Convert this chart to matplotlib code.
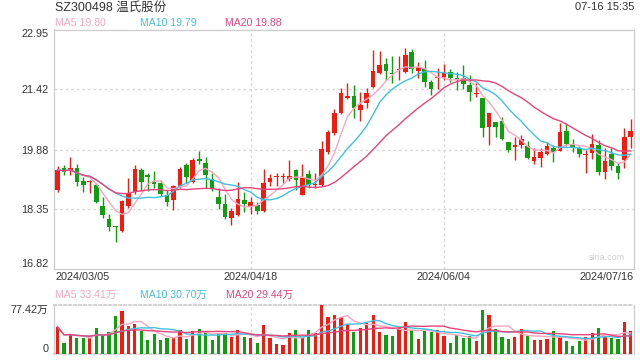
import matplotlib
matplotlib.use("Agg")
import matplotlib.pyplot as plt
import numpy as np
import pandas as pd

title = "SZ300498 温氏股份"
stamp = "07-16 15:35"
date_labels = ["2024/03/05", "2024/04/18", "2024/06/04", "2024/07/16"]
date_idx = [0, 30, 60, 89]
price_ticks = [22.95, 21.42, 19.88, 18.35, 16.82]
vol_max = 77.42

opens = [18.85, 19.40, 19.33, 19.41, 19.08, 19.04, 18.98, 18.44, 18.11, 17.93,
         17.79, 18.44, 18.79, 19.36, 19.22, 19.05, 19.02, 18.72, 18.58, 18.94,
         19.49, 19.06, 19.65, 19.53, 19.12, 18.66, 18.49, 18.13, 18.22, 18.60,
         18.43, 18.47, 18.32, 19.06, 19.19, 19.18, 19.14, 19.35, 18.73, 19.25,
         18.98, 18.98, 19.82, 20.30, 20.81, 21.19, 21.25, 20.89, 21.06, 21.47,
         21.83, 22.06, 21.83, 21.91, 21.87, 22.38, 21.90, 21.93, 21.60, 21.71,
         21.74, 21.87, 21.70, 21.70, 21.53, 21.30, 21.21, 20.46, 20.59, 20.60,
         20.08, 19.95, 20.01, 19.97, 19.59, 19.67, 19.78, 19.93, 19.85, 20.36,
         19.99, 19.93, 19.73, 19.80, 19.99, 19.31, 19.76, 19.45, 19.61, 20.19]
highs = [19.46, 19.49, 19.68, 19.51, 19.19, 19.11, 19.02, 18.66, 18.23, 17.93,
         18.60, 19.15, 19.48, 19.40, 19.29, 19.33, 19.11, 18.85, 18.98, 19.43,
         19.53, 19.66, 19.85, 19.70, 19.29, 18.91, 18.74, 18.38, 19.04, 18.80,
         18.68, 18.55, 19.38, 19.26, 19.29, 19.29, 19.62, 19.38, 19.51, 19.35,
         19.27, 20.09, 20.38, 20.93, 21.46, 21.57, 21.53, 21.34, 21.45, 22.42,
         22.40, 22.23, 22.27, 22.27, 22.47, 22.45, 22.11, 22.17, 21.66, 21.96,
         22.06, 21.93, 21.87, 22.04, 21.79, 21.57, 21.21, 20.82, 20.59, 20.71,
         20.08, 20.20, 20.25, 20.09, 19.93, 19.91, 20.08, 19.99, 20.56, 20.56,
         20.16, 19.97, 19.86, 20.27, 20.12, 19.91, 19.91, 19.54, 20.42, 20.67]
lows = [18.80, 19.23, 19.23, 18.94, 18.79, 18.78, 18.51, 18.13, 17.81, 17.52,
        17.77, 18.38, 18.74, 18.85, 18.81, 18.90, 18.70, 18.44, 18.34, 18.90,
        19.02, 19.02, 19.50, 18.91, 18.83, 18.36, 18.10, 17.95, 18.19, 18.29,
        18.23, 18.23, 18.29, 18.95, 18.95, 19.02, 19.08, 18.85, 18.72, 18.89,
        18.89, 18.96, 19.76, 20.26, 20.78, 21.17, 20.68, 20.61, 20.94, 21.45,
        21.81, 21.66, 21.59, 21.66, 21.83, 21.83, 21.70, 21.47, 21.28, 21.43,
        21.66, 21.62, 21.40, 21.43, 21.11, 21.23, 20.21, 20.01, 20.20, 20.12,
        19.82, 19.61, 19.93, 19.63, 19.51, 19.44, 19.74, 19.57, 19.84, 19.97,
        19.82, 19.69, 19.27, 19.65, 19.23, 19.12, 19.37, 19.12, 19.40, 19.93]
closes = [19.36, 19.32, 19.40, 19.06, 18.98, 19.08, 18.55, 18.20, 17.89, 17.91,
          18.57, 18.77, 19.39, 19.06, 19.18, 19.00, 18.75, 18.53, 18.94, 19.38,
          19.17, 19.62, 19.60, 19.23, 18.87, 18.49, 18.15, 18.30, 18.62, 18.50,
          18.55, 18.30, 19.02, 19.15, 19.21, 19.20, 19.21, 19.11, 19.15, 18.97,
          19.00, 19.89, 20.32, 20.81, 21.32, 21.26, 20.94, 21.02, 21.32, 21.89,
          22.04, 21.89, 21.82, 21.93, 22.30, 21.93, 21.98, 21.60, 21.42, 21.72,
          21.84, 21.70, 21.66, 21.56, 21.34, 21.32, 20.44, 20.81, 20.46, 20.14,
          19.86, 19.99, 20.14, 19.67, 19.69, 19.82, 19.97, 19.82, 20.33, 20.03,
          19.93, 19.78, 19.75, 20.03, 19.31, 19.58, 19.45, 19.27, 20.19, 20.35]
volumes = [42.9, 17.8, 31.4, 25.6, 25.6, 25.6, 41.3, 29.8, 35.0, 60.2,
           68.0, 44.5, 47.6, 36.1, 22.5, 31.9, 22.5, 25.6, 24.6, 38.2,
           24.1, 36.6, 39.8, 33.5, 22.5, 30.9, 33.0, 27.2, 38.2, 27.2,
           25.6, 17.8, 46.0, 25.6, 16.2, 14.6, 33.0, 38.2, 25.6, 38.2,
           33.0, 77.42, 59.1, 61.7, 58.1, 47.6, 35.0, 41.3, 49.7, 61.7,
           35.0, 30.3, 28.8, 41.3, 50.7, 38.2, 24.1, 36.6, 35.0, 38.2,
           28.8, 17.8, 30.3, 25.6, 28.8, 20.9, 69.6, 61.7, 39.8, 27.2,
           24.1, 27.2, 39.8, 28.8, 22.5, 22.5, 24.1, 36.6, 27.2, 20.9,
           13.1, 20.9, 27.2, 33.5, 41.3, 27.2, 25.6, 24.1, 50.7, 36.6]
price_ma_text = ["MA5 19.80", "MA10 19.79", "MA20 19.88"]
vol_ma_text = ["MA5 33.41万", "MA10 30.70万", "MA20 29.44万"]

RED = "#f31b10"
GREEN = "#0e9e0e"
MA_COLORS = ["#f7a6c0", "#3fc1de", "#e8447b"]
TXT = "#333333"
GRID = "#d9d9d9"
BORDER = "#cccccc"

plt.rcParams["font.family"] = ["Liberation Sans", "Noto Sans CJK SC", "DejaVu Sans"]

W, H = 640, 360
fig = plt.figure(figsize=(W / 100, H / 100), dpi=100)

def fx(x):
    return x / W

def fy(y):
    return 1 - y / H

L, R = 54, 634
ax = fig.add_axes([fx(L), fy(269.3), (R - L) / W, (269.3 - 29.5) / H])
axv = fig.add_axes([fx(L), fy(354), (R - L) / W, (354 - 305) / H])

n = len(closes)
x = np.arange(n)
o = np.array(opens); c = np.array(closes); hi = np.array(highs); lo = np.array(lows)
up = c >= o
cols = np.where(up, RED, GREEN)

# price panel
for yv in price_ticks[1:-1]:
    ax.axhline(yv, color=GRID, lw=1.0, ls=(0, (2, 2)), zorder=0)
for xi in date_idx[1:3]:
    ax.axvline(xi, color=GRID, lw=1.0, ls=(0, (2, 2)), zorder=0)
    axv.axvline(xi, color=GRID, lw=1.0, ls=(0, (2, 2)), zorder=0)

ax.vlines(x, lo, hi, colors=cols, lw=1.0, zorder=2)
body_b = np.minimum(o, c)
body_h = np.maximum(np.abs(c - o), 0.025)
ax.bar(x, body_h, bottom=body_b, width=0.72, color=cols, lw=0, zorder=3)

cs = pd.Series(c)
for w, col in zip([5, 10, 20], MA_COLORS):
    ax.plot(x, cs.rolling(w, min_periods=1).mean(), color=col, lw=1.0, zorder=4)

ax.set_xlim(-0.55, n - 0.5)
ax.set_ylim(price_ticks[-1], price_ticks[0])
ax.set_xticks([])
ax.set_yticks(price_ticks)
ax.set_yticklabels([f"{t:.2f}" for t in price_ticks], fontsize=7.8, color=TXT)
ax.tick_params(axis="y", length=0, pad=4)
labs = ax.get_yticklabels()
labs[0].set_va("top")
labs[-1].set_va("bottom")
for s in ax.spines.values():
    s.set_color(BORDER)
    s.set_linewidth(0.9)
ax.text(0.985, 0.03, "sina.com", transform=ax.transAxes, ha="right", va="bottom",
        fontsize=6.5, color="#cfcfcf")

# volume panel
axv.bar(x, volumes, width=0.5, color=cols, lw=0, zorder=3)
vs = pd.Series(volumes)
for w, col in zip([5, 10, 20], MA_COLORS):
    axv.plot(x, vs.rolling(w, min_periods=1).mean(), color=col, lw=1.0, zorder=4)
axv.set_xlim(-0.55, n - 0.5)
axv.set_ylim(0, vol_max)
axv.set_xticks([])
axv.set_yticks([vol_max, 0])
axv.set_yticklabels([f"{vol_max:.2f}万", "0"], fontsize=7.8, color=TXT)
axv.tick_params(axis="y", length=0, pad=4)
vl = axv.get_yticklabels()
vl[0].set_va("top")
vl[1].set_va("bottom")
for k in ["left", "right"]:
    axv.spines[k].set_color(BORDER)
    axv.spines[k].set_linewidth(0.9)
for k in ["top", "bottom"]:
    axv.spines[k].set_color(BORDER)
    axv.spines[k].set_linewidth(1.2)
    axv.spines[k].set_linestyle((0, (1.5, 1.5)))

# texts
fig.text(fx(55), fy(7.5), title, fontsize=9, color=TXT, va="center", ha="left")
fig.text(fx(634), fy(7.5), stamp, fontsize=8, color=TXT, va="center", ha="right")
for t, col, xp in zip(price_ma_text, MA_COLORS, [55, 140, 225]):
    fig.text(fx(xp), fy(23.5), t, fontsize=7.6, color=col, va="center", ha="left")
for t, col, xp in zip(vol_ma_text, MA_COLORS, [55, 140, 226]):
    fig.text(fx(xp), fy(295), t, fontsize=7.6, color=col, va="center", ha="left")

# date labels
aligns = ["left", "center", "center", "right"]
for lab, xi, ha in zip(date_labels, date_idx, aligns):
    if ha == "left":
        xp = L + 1
    elif ha == "right":
        xp = R
    else:
        xp = ax.transData.transform((xi, 0))[0] * W / fig.bbox.width
    fig.text(fx(xp), fy(277), lab, fontsize=7.8, color=TXT, va="center", ha=ha)

fig.savefig("out.png", dpi=100)
